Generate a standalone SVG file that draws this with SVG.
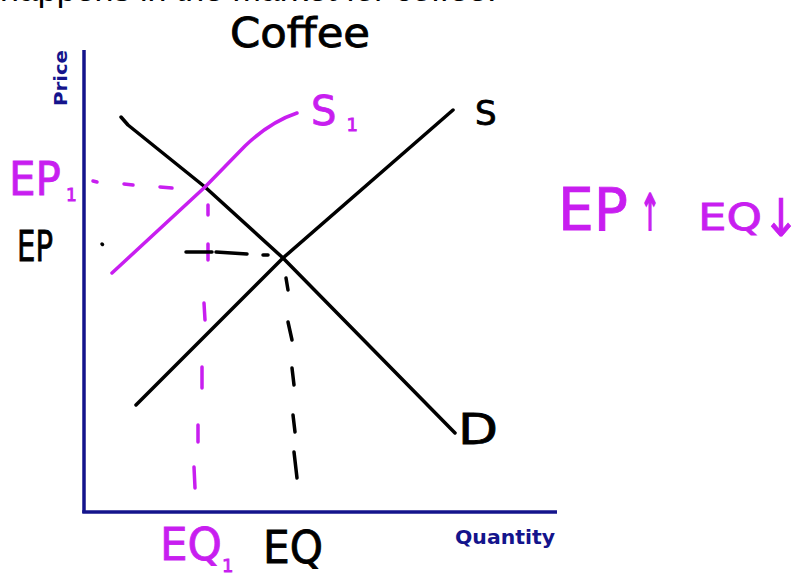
<svg xmlns="http://www.w3.org/2000/svg" width="805" height="576" viewBox="0 0 805 576">
<style>
.ax{stroke:#14148c;stroke-width:3.5;fill:none}
.axt{font-family:"DejaVu Sans",sans-serif;font-weight:bold;fill:#14148c}
.k{stroke:#000;stroke-width:3.5;fill:none;stroke-linecap:round;stroke-linejoin:round}
.m{stroke:#c81ef0;stroke-width:3.5;fill:none;stroke-linecap:round;stroke-linejoin:round}
.hk{font-family:"DejaVu Sans",sans-serif;fill:#000;stroke:#000;stroke-width:0.8}
.hm{font-family:"DejaVu Sans",sans-serif;fill:#c81ef0;stroke:#c81ef0;stroke-width:0.8}
</style>
<rect width="805" height="576" fill="#fff"/>
<text x="0" y="1" font-family="Liberation Sans, sans-serif" font-size="34" fill="#000">happens in the market for coffee.</text>
<g id="axes">
<line class="ax" x1="84" y1="50" x2="84" y2="513"/>
<line class="ax" x1="82.3" y1="512" x2="557" y2="512"/>
<text class="axt" font-size="17" transform="translate(67,106) rotate(-90)" textLength="56" lengthAdjust="spacingAndGlyphs">Price</text>
<text class="axt" font-size="19" x="455" y="544" textLength="100" lengthAdjust="spacingAndGlyphs">Quantity</text>
</g>
<g id="title"><text class="hk" x="230" y="47" font-size="40" textLength="140" lengthAdjust="spacingAndGlyphs">Coffee</text></g>
<g id="connectors">
<path id="demand" class="k" d="M121,117 L128,125 L205,187 L283,258 L455,433"/>
<path id="supply" class="k" d="M136,405 L283,258 L453,110"/>
<path id="supply1" class="m" d="M112,273 L205,187 L245,146 Q270,122 297,113"/>
<g class="m">
<path d="M93,181 L97,182 M124,184 L133,185 M160,187 L172,188"/>
<path d="M208,205 L208,215 M208,244 L208,260 M204,303 L205,320 M202,367 L202,388 M198,425 L198,442 M194,467 L195,488"/>
</g>
<g class="k">
<path d="M186,252 L212,252 M216,252 L247,254 M263,255 L268,255"/>
<path d="M102,244 L102.5,244.5"/>
<path d="M286,278 L288,290 M288,322 L292,340 M292,368 L294,385 M293,415 L295,432 M294,452 L297,478"/>
</g>
</g>
<g id="label-S"><text class="hk" x="475" y="125" font-size="34">S</text></g>
<g id="label-S1"><text class="hm" x="311" y="125" font-size="40">S<tspan font-size="18" dx="10" dy="6">1</tspan></text></g>
<g id="label-D"><text class="hk" x="458" y="444" font-size="42" textLength="40" lengthAdjust="spacingAndGlyphs">D</text></g>
<g id="label-EP1"><text class="hm" x="9" y="195" font-size="46" textLength="52" lengthAdjust="spacingAndGlyphs">EP</text><text class="hm" x="66" y="201" font-size="17">1</text></g>
<g id="label-EP"><text class="hk" x="17" y="261" font-size="42" textLength="36" lengthAdjust="spacingAndGlyphs">EP</text></g>
<g id="label-EQ1"><text class="hm" x="160" y="560" font-size="44" textLength="62" lengthAdjust="spacingAndGlyphs">EQ</text><text class="hm" x="222" y="572" font-size="18">1</text></g>
<g id="label-EQ"><text class="hk" x="263" y="563" font-size="44" textLength="60" lengthAdjust="spacingAndGlyphs">EQ</text></g>
<g id="label-change"><text class="hm" x="558" y="230" font-size="58" textLength="70" lengthAdjust="spacingAndGlyphs">EP</text><text class="hm" x="640" y="230" font-size="50" textLength="20" lengthAdjust="spacingAndGlyphs" style="stroke-width:2.2">↑</text><text class="hm" x="698" y="230" font-size="38" textLength="64" lengthAdjust="spacingAndGlyphs">EQ</text><text class="hm" x="762" y="236" font-size="52" textLength="38" lengthAdjust="spacingAndGlyphs">↓</text></g>
</svg>
